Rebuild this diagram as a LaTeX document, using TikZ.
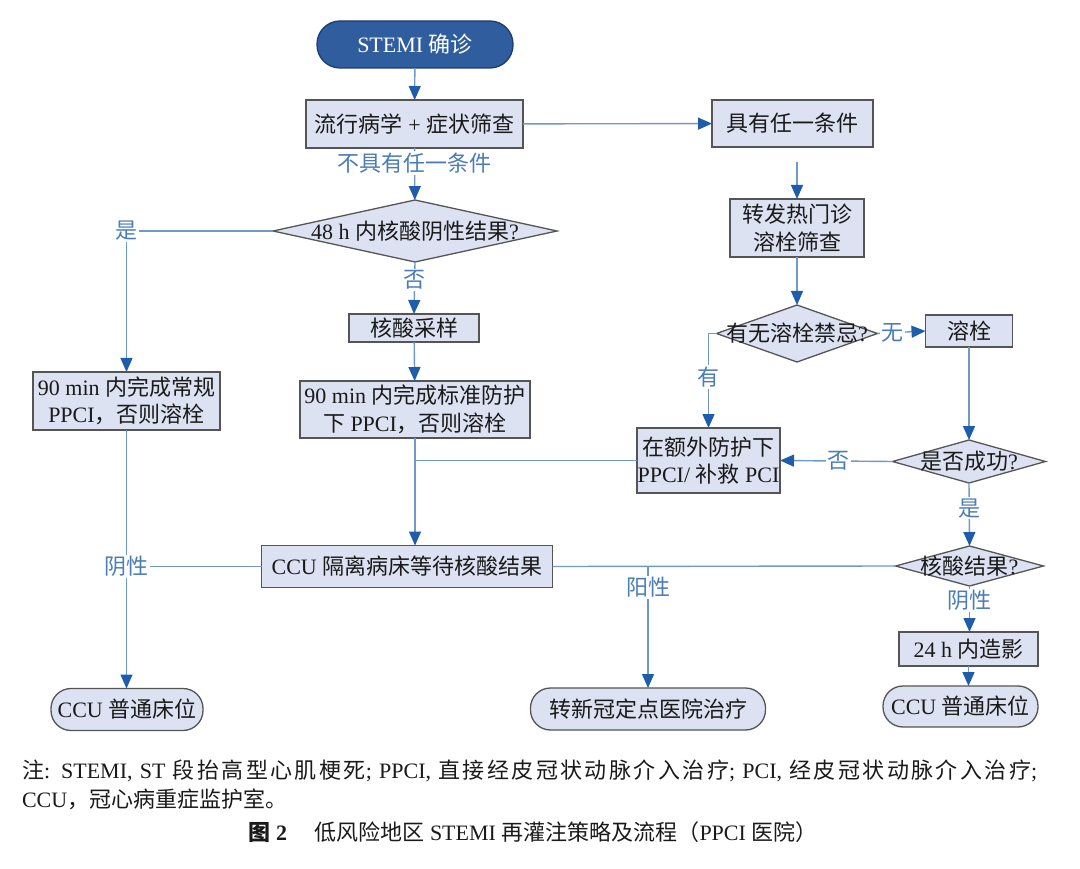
\documentclass[tikz,border=0pt]{standalone}
\usepackage{fontspec}
\setmainfont{Liberation Serif}
\newfontfamily\cjk{Noto Sans CJK SC}
\usetikzlibrary{arrows.meta,shapes.geometric,calc}
\newcommand\zh[1]{{\cjk #1}}
\XeTeXlinebreaklocale "zh"
\XeTeXlinebreakskip=0pt plus 6pt
\definecolor{boxfill}{HTML}{DDE2F2}
\definecolor{boxdraw}{HTML}{555555}
\definecolor{pillfill}{HTML}{2F5D9E}
\definecolor{pilldraw}{HTML}{1E3C6E}
\definecolor{linec}{HTML}{6F9AC6}
\definecolor{tipc}{HTML}{1F5DAA}
\definecolor{lblc}{HTML}{4A7DB5}
\definecolor{txtc}{HTML}{1A1A1A}
\begin{document}
\begin{tikzpicture}[x=1pt,y=-1pt,
  base/.style={inner sep=0pt, outer sep=0pt, font=\fontsize{22}{27.5}\selectfont, align=center, text=txtc},
  box/.style={base, rectangle, draw=boxdraw, line width=1.3pt, fill=boxfill},
  pill/.style={box, rounded corners=20pt},
  darkpill/.style={base, rectangle, rounded corners=23pt, draw=pilldraw, line width=1.3pt, fill=pillfill, text=white},
  dia/.style={base, diamond, draw=boxdraw, line width=1.3pt, fill=boxfill},
  lbl/.style={base, text=lblc, fill=white, inner sep=1.5pt},
  conn/.style={draw=linec, line width=1.4pt},
  arr/.style={conn, -{Triangle[length=14pt,width=12pt,color=tipc]}},
  note/.style={base, font=\fontsize{22}{29}\selectfont, align=left}
]
\useasboundingbox (0,0) rectangle (1080,869);

% nodes
\node[darkpill, minimum width=196, minimum height=47] (stemi) at (415,44.5) {STEMI \zh{确诊}};
\node[box, minimum width=217, minimum height=48] (screen) at (414.5,124) {\zh{流行病学} + \zh{症状筛查}};
\node[box, minimum width=161, minimum height=47] (has) at (792.5,123.5) {\zh{具有任一条件}};
\node[dia, minimum width=284, minimum height=62] (d48) at (415,231) {};
\node[base] (d48t) at (d48) {48 h \zh{内核酸阴性结果}?};
\node[box, minimum width=134, minimum height=58] (refer) at (797,228) {\zh{转发热门诊}\\\zh{溶栓筛查}};
\node[dia, minimum width=161, minimum height=57] (d2) at (797,333.5) {};
\node[base] (d2t) at (d2) {\zh{有无溶栓禁忌}?};
\node[box, minimum width=87, minimum height=32] (thromb) at (969,331) {\zh{溶栓}};
\node[box, minimum width=130, minimum height=28] (sample) at (414,328) {\zh{核酸采样}};
\node[box, minimum width=187, minimum height=58] (leftbox) at (126.5,401) {90 min \zh{内完成常规}\\PPCI\zh{，否则溶栓}};
\node[box, minimum width=230, minimum height=57] (mid) at (415,409.5) {90 min \zh{内完成标准防护}\\\zh{下} PPCI\zh{，否则溶栓}};
\node[box, minimum width=143, minimum height=65] (extra) at (708.5,460.5) {\zh{在额外防护下}\\PPCI/ \zh{补救} PCI};
\node[dia, minimum width=153, minimum height=43] (succ) at (969,461.5) {};
\node[base] (succt) at (succ) {\zh{是否成功}?};
\node[dia, minimum width=148, minimum height=40] (nres) at (969.5,566) {};
\node[base] (nrest) at (nres) {\zh{核酸结果}?};
\node[box, minimum width=291, minimum height=42] (ccu) at (407,566.5) {CCU \zh{隔离病床等待核酸结果}};
\node[box, minimum width=139, minimum height=34] (angio) at (968.5,649) {24 h \zh{内造影}};
\node[pill, minimum width=155, minimum height=41] (ccu3) at (960.5,706.5) {CCU \zh{普通床位}};
\node[pill, minimum width=152, minimum height=42] (ccu1) at (127,709.5) {CCU \zh{普通床位}};
\node[pill, minimum width=235, minimum height=42] (transfer) at (648,709) {\zh{转新冠定点医院治疗}};

% connectors
\draw[arr] (stemi) -- (screen);
\draw[arr] (screen) -- node[lbl, pos=0.29] (l1) {\zh{不具有任一条件}} (d48);
\draw[arr] (screen) -- (has);
\draw[arr, shorten <=15pt] (refer.north |- has.south) -- (refer.north);
\draw[arr] (refer.south) -- (d2.north);
\draw[arr] (d2.east) -- node[lbl, pos=0.32] (l2) {\zh{无}} (thromb.west);
\draw[arr] (d2.west) -| node[lbl, pos=0.73] (l3) {\zh{有}} (extra.north);
\draw[arr] (thromb.south) -- (succ.north);
\draw[arr] (succ.west) -- node[lbl, pos=0.48] (l4) {\zh{否}} (extra.east);
\draw[arr] (succ.south) -- node[lbl, pos=0.4] (l5) {\zh{是}} (nres.north);
\draw[arr] (nres.south) -- node[lbl, pos=0.31] (l6) {\zh{阴性}} (nres.south |- angio.north);
\draw[arr] (angio) -- (angio.south |- ccu3.north);
\draw[arr] (d48.west) -| node[lbl, pos=0.5] (l7) {\zh{是}} (leftbox.north);
\draw[arr] (d48.south) -- node[lbl, pos=0.35] (l8) {\zh{否}} (sample.north);
\draw[arr] (sample) -- (mid);
\draw[arr] (mid.south) -- (mid.south |- ccu.north);
\coordinate (j1) at (mid.south |- extra.west);
\draw[conn] (extra.west) -- (j1);
\draw[arr] (leftbox.south) -- (leftbox.south |- ccu1.north);
\coordinate (j0) at (leftbox.south |- ccu.west);
\draw[conn] (ccu.west) -- (j0) node[lbl] (l9) {\zh{阴性}};
\coordinate (j2) at (transfer.north |- ccu.east);
\draw[conn] (ccu.east) -- (nres.west);
\draw[arr] (j2) -- node[lbl, pos=0.17] (l10) {\zh{阳性}} (transfer.north);

% caption
\node[note, anchor=north west, text width=1033pt] (n1) at (22,759.5) {\zh{注}: STEMI, ST \zh{段抬高型心肌梗死}; PPCI, \zh{直接经皮冠状动脉介入治疗}; PCI, \zh{经皮冠状动脉介入治疗};\linebreak CCU\zh{，冠心病重症监护室。}};
\node[note] (n3) at (533,832) {{\cjk\bfseries 图} \textbf{2}\quad\ \zh{低风险地区} STEMI \zh{再灌注策略及流程（}PPCI \zh{医院）}};
\end{tikzpicture}
\end{document}
